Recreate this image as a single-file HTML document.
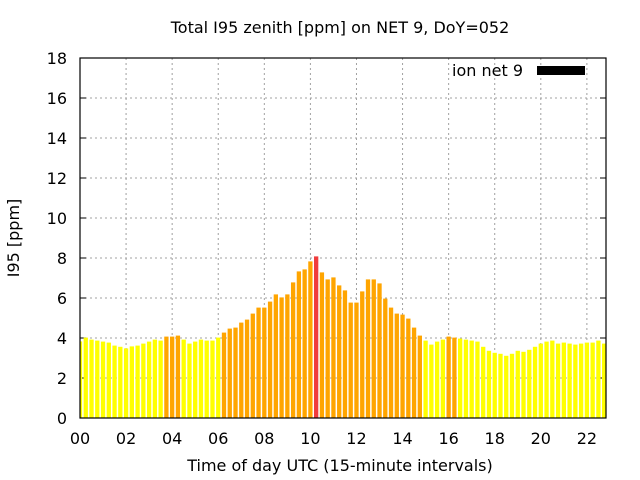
<!DOCTYPE html>
<html><head><meta charset="utf-8"><style>
body{margin:0;background:#fff}
svg{display:block;font-family:"DejaVu Sans","Liberation Sans",sans-serif}
</style></head><body>
<svg id="chart" width="640" height="480"><defs><clipPath id="pc"><rect x="80" y="58" width="526" height="360"/></clipPath></defs><g id="bars" clip-path="url(#pc)"></g></svg>
<script>
const values=[3.83,4.02,3.92,3.87,3.82,3.77,3.62,3.56,3.48,3.58,3.62,3.72,3.82,3.92,3.87,4.07,4.07,4.12,3.92,3.72,3.82,3.92,3.87,3.87,4.02,4.27,4.47,4.52,4.77,4.92,5.22,5.52,5.52,5.82,6.18,6.03,6.18,6.78,7.33,7.43,7.83,8.08,7.28,6.93,7.03,6.63,6.38,5.77,5.77,6.33,6.93,6.93,6.73,5.97,5.52,5.22,5.17,4.97,4.52,4.12,3.87,3.67,3.82,3.92,4.07,4.02,3.97,3.92,3.87,3.82,3.56,3.36,3.26,3.21,3.11,3.21,3.36,3.31,3.41,3.56,3.72,3.82,3.87,3.72,3.77,3.72,3.67,3.72,3.77,3.77,3.87,3.72];
const levels=[0,0,0,0,0,0,0,0,0,0,0,0,0,0,0,1,1,1,0,0,0,0,0,0,0,1,1,1,1,1,1,1,1,1,1,1,1,1,1,1,1,2,1,1,1,1,1,1,1,1,1,1,1,1,1,1,1,1,1,1,0,0,0,0,1,1,0,0,0,0,0,0,0,0,0,0,0,0,0,0,0,0,0,0,0,0,0,0,0,0,0,0];
const xTicks=[0,2,4,6,8,10,12,14,16,18,20,22];
const xTickLabels=["00","02","04","06","08","10","12","14","16","18","20","22"];
const yTicks=[0,2,4,6,8,10,12,14,16,18];
const colors=["#ffff00","#ffa500","#f03c3c"];
const L=80,R=606,T=58,B=418;
const FS=16;
const X=h=>L+h*23.04;
const Y=v=>B-(v/18)*(B-T);
const svg=document.getElementById('chart');
const barsG=document.getElementById('bars');
const NS='http://www.w3.org/2000/svg';
function mk(t,a,txt,p){const e=document.createElementNS(NS,t);for(const k in a)e.setAttribute(k,a[k]);if(txt!=null)e.textContent=txt;(p||svg).appendChild(e);return e;}
yTicks.forEach((v,i)=>{
 if(v>0&&v<18){const g=mk('line',{x1:L,x2:R,y1:Y(v),y2:Y(v),stroke:'#a0a0a0','stroke-dasharray':'2,3'});
 
 }
 const t=mk('text',{x:L-13,y:Y(v)+6,'text-anchor':'end','font-size':FS},String(v));
 
 
 mk('line',{x1:L,x2:L+6,y1:Y(v),y2:Y(v),stroke:'#000'});
 mk('line',{x1:R,x2:R-6,y1:Y(v),y2:Y(v),stroke:'#000'});
});
xTicks.forEach((h,i)=>{
 if(h>0){const g=mk('line',{x1:X(h),x2:X(h),y1:T,y2:B,stroke:'#a0a0a0','stroke-dasharray':'2,3'});
 
 }
 const t=mk('text',{x:X(h),y:444,'text-anchor':'middle','font-size':FS},xTickLabels[i]);
 
 
});
svg.appendChild(barsG);
const bw=4.3;
values.forEach((v,i)=>{
 const cx=X(i*0.25);
 const b=mk('rect',{x:cx-bw/2,y:Y(v),width:bw,height:B-Y(v),fill:colors[levels[i]]},null,barsG);
 
 
});
const fr=mk('rect',{x:L,y:T,width:R-L,height:B-T,fill:'none',stroke:'#000','stroke-width':1.2});


const ti=mk('text',{x:340,y:33,'text-anchor':'middle','font-size':FS},'Total I95 zenith [ppm] on NET 9, DoY=052');


const xl=mk('text',{x:340,y:471,'text-anchor':'middle','font-size':FS},'Time of day UTC (15-minute intervals)');


const yl=mk('text',{x:19,y:238,'text-anchor':'middle','font-size':FS,transform:'rotate(-90 19 238)'},'I95 [ppm]');


const lt=mk('text',{x:523,y:76,'text-anchor':'end','font-size':FS},'ion net 9');


const lb=mk('rect',{x:537,y:66,width:48,height:9,fill:'#000'});


</script>
</body></html>
